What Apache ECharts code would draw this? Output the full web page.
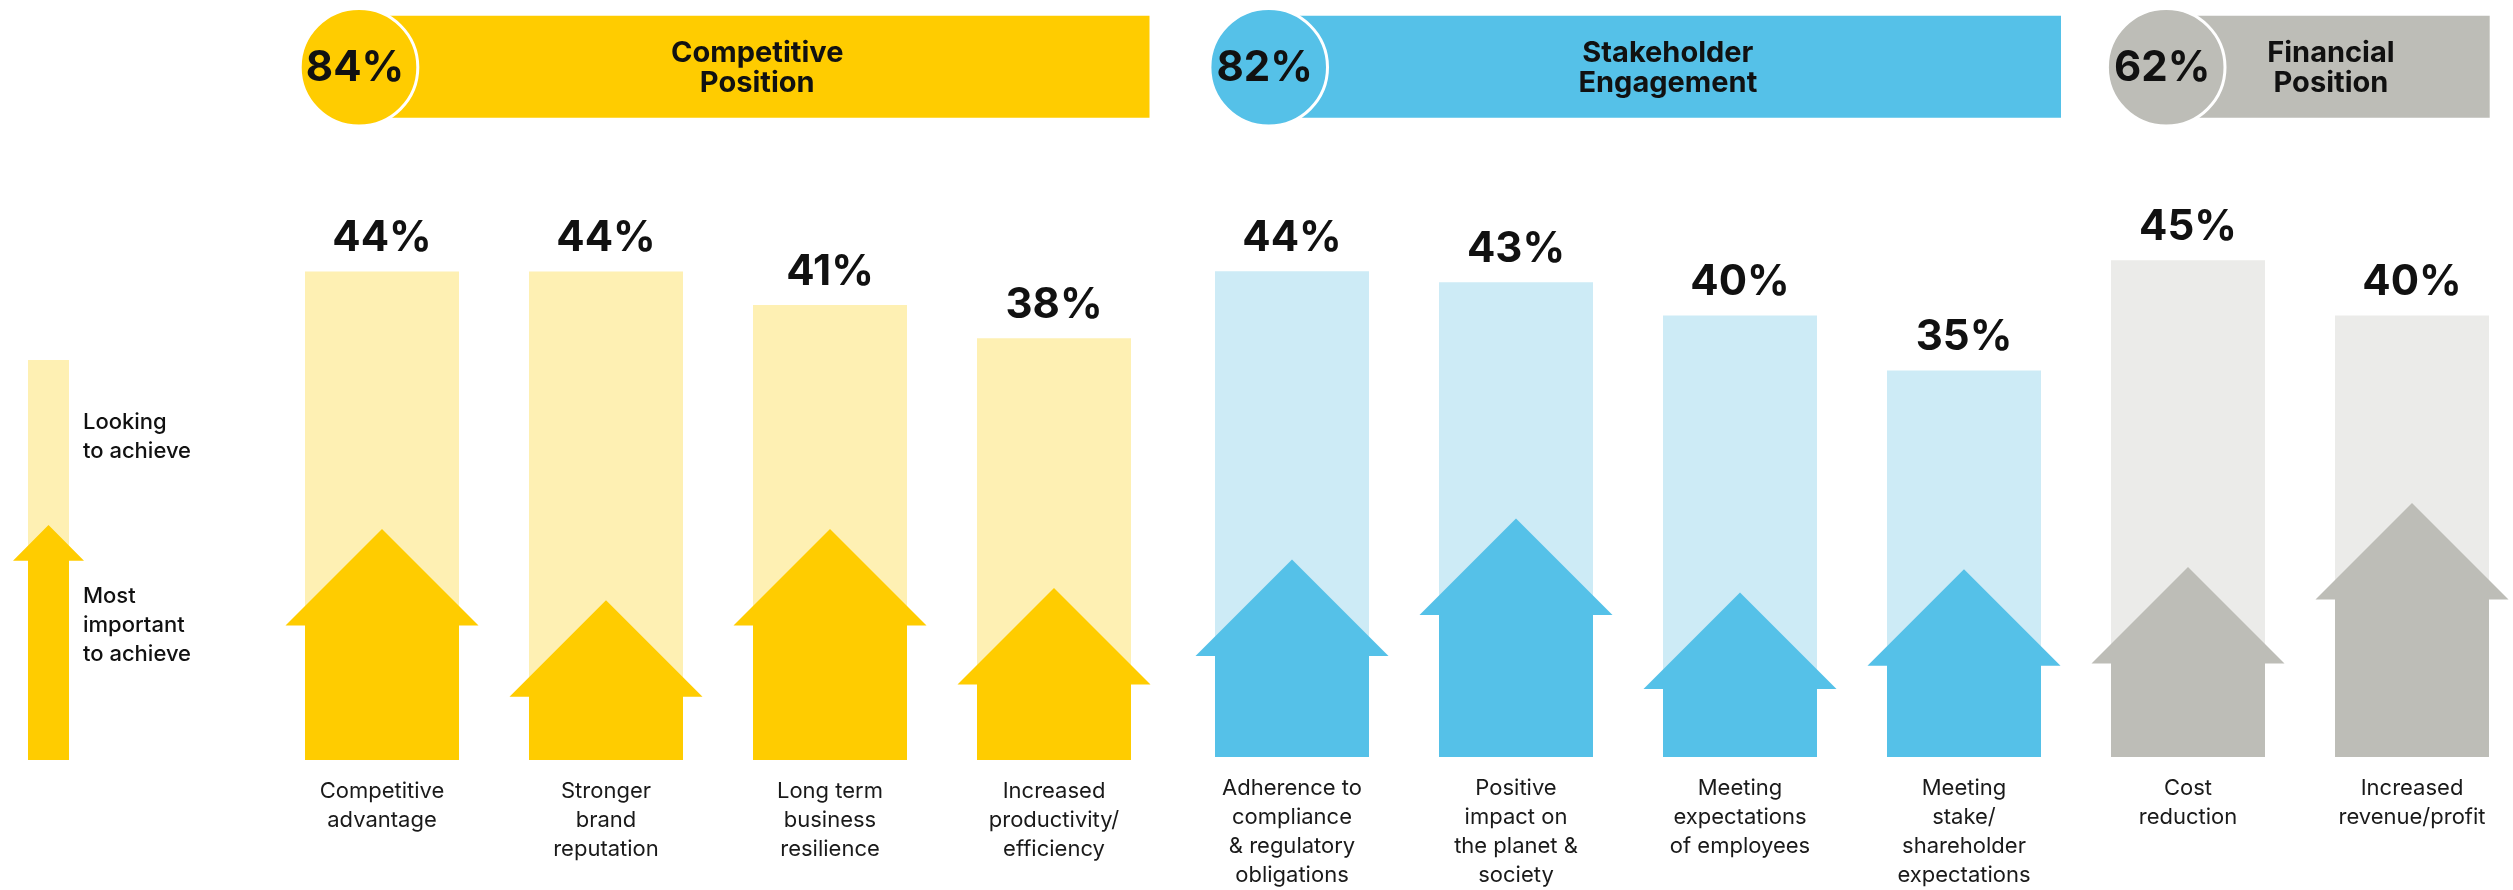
<!DOCTYPE html>
<html>
<head>
<meta charset="utf-8">
<script src="https://cdn.jsdelivr.net/npm/echarts@6/dist/echarts.min.js"></script>
<style>
  html, body { margin: 0; padding: 0; background: #fff; }
  #main { width: 2513px; height: 890px; }
</style>
</head>
<body>
<div id="main"></div>
<script>
// --- data ---
const compCats = ['Competitive\nadvantage', 'Stronger\nbrand\nreputation', 'Long term\nbusiness\nresilience', 'Increased\nproductivity/\nefficiency'];
const compLooking = [44, 44, 41, 38];
const compMost = [20.8, 14.4, 20.8, 15.5];

const stakeCats = ['Adherence to\ncompliance\n& regulatory\nobligations', 'Positive\nimpact on\nthe planet &\nsociety', 'Meeting\nexpectations\nof employees', 'Meeting\nstake/\nshareholder\nexpectations'];
const stakeLooking = [44, 43, 40, 35];
const stakeMost = [17.9, 21.6, 14.9, 17.0];

const finCats = ['Cost\nreduction', 'Increased\nrevenue/profit'];
const finLooking = [45, 40];
const finMost = [17.2, 23.0];

const groupNames = ['Competitive\nPosition', 'Stakeholder\nEngagement', 'Financial\nPosition'];
const groupTotals = [84, 82, 62];

const legendLabels = ['Looking\nto achieve', 'Most\nimportant\nto achieve'];

// --- styles ---
const YELLOW = '#FFCC00', YELLOW_L = '#FEF0B3';
const BLUE = '#55C1E8', BLUE_L = '#CDEBF6';
const GREY = '#BDBDB7', GREY_L = '#EBEBE9';
const FONT = 'Inter, "Liberation Sans", sans-serif';

const BAR_W = 154;
const HEAD_OVER = 19.5;

const rightCats = stakeCats.concat(finCats);
const rightLooking = stakeLooking.concat(finLooking);
const rightMost = stakeMost.concat(finMost);
const rightDark = (i) => (i < stakeCats.length ? BLUE : GREY);
const rightLight = (i) => (i < stakeCats.length ? BLUE_L : GREY_L);

function arrowRenderer(colorFn) {
  return function (params, api) {
    const idx = api.value(0);
    const val = api.value(1);
    const tip = api.coord([idx, val]);
    const base = api.coord([idx, 0]);
    const half = BAR_W / 2;
    const headHalf = half + HEAD_OVER;
    const headY = tip[1] + headHalf; // 45 degree head
    const x = tip[0];
    return {
      type: 'polygon',
      shape: {
        points: [
          [x - half, base[1]], [x - half, headY], [x - headHalf, headY],
          [x, tip[1]],
          [x + headHalf, headY], [x + half, headY], [x + half, base[1]],
        ],
      },
      style: { fill: colorFn(params.dataIndex) },
    };
  };
}

const axisLabel = {
  interval: 0,
  margin: 17,
  fontFamily: FONT,
  fontSize: 22,
  lineHeight: 29,
  color: '#1a1a1a',
};
const barLabel = {
  show: true,
  position: 'top',
  distance: 12,
  formatter: '{c}%',
  fontFamily: FONT,
  fontWeight: 'bold',
  fontSize: 42,
  color: '#111',
};

// header banners
const hdr = [
  { cx: 359, right: 1149.5, dark: YELLOW },
  { cx: 1268.7, right: 2061, dark: BLUE },
  { cx: 2166.2, right: 2489.7, dark: GREY },
];
const graphics = [];
hdr.forEach((h, i) => {
  graphics.push({
    type: 'rect', z: 1,
    shape: { x: h.cx + 31, y: 15.7, width: h.right - h.cx - 31, height: 102 },
    style: { fill: h.dark },
  });
  graphics.push({
    type: 'circle', z: 2,
    shape: { cx: h.cx, cy: 67.3, r: 58.8 },
    style: { fill: h.dark, stroke: '#fff', lineWidth: 3 },
  });
  graphics.push({
    type: 'text', z: 3,
    style: {
      text: groupTotals[i] + '%', x: h.cx - 4, y: 68,
      align: 'center', verticalAlign: 'middle',
      font: 'bold 42px ' + FONT, fill: '#111',
    },
  });
  graphics.push({
    type: 'text', z: 3,
    style: {
      text: groupNames[i], x: (h.cx + h.right) / 2 + 3, y: 68,
      align: 'center', verticalAlign: 'middle', lineHeight: 30,
      font: 'bold 29px ' + FONT, fill: '#111',
    },
  });
});

// legend on the left
graphics.push({ type: 'rect', shape: { x: 28, y: 360, width: 41, height: 400 }, style: { fill: YELLOW_L } });
graphics.push({
  type: 'polygon',
  shape: { points: [[28, 760], [28, 560.7], [13, 560.7], [48.5, 525], [84, 560.7], [69, 560.7], [69, 760]] },
  style: { fill: YELLOW },
});
graphics.push({
  type: 'text',
  style: { text: legendLabels[0], x: 83, y: 437, verticalAlign: 'middle', lineHeight: 29, font: '500 22px ' + FONT, fill: '#111' },
});
graphics.push({
  type: 'text',
  style: { text: legendLabels[1], x: 83, y: 625, verticalAlign: 'middle', lineHeight: 29, font: '500 22px ' + FONT, fill: '#111' },
});

// category ticks sit on the grid edges (boundaryGap false), 224px apart
const option = {
  animation: false,
  backgroundColor: '#fff',
  grid: [
    { left: 382, width: 672, top: 205, bottom: 130 },
    { left: 1292, width: 1120, top: 205, bottom: 130 },
  ],
  xAxis: [
    { type: 'category', gridIndex: 0, boundaryGap: false, data: compCats, axisLine: { show: false }, axisTick: { show: false }, axisLabel },
    { type: 'category', gridIndex: 1, boundaryGap: false, data: rightCats, axisLine: { show: false }, axisTick: { show: false }, axisLabel },
  ],
  yAxis: [
    { type: 'value', gridIndex: 0, min: 0, max: 50, show: false, splitLine: { show: false } },
    { type: 'value', gridIndex: 1, min: 0, max: 50, show: false, splitLine: { show: false } },
  ],
  graphic: graphics,
  series: [
    {
      name: 'Looking to achieve', type: 'bar', xAxisIndex: 0, yAxisIndex: 0,
      barWidth: BAR_W, data: compLooking, itemStyle: { color: YELLOW_L }, label: barLabel, z: 2,
    },
    {
      name: 'Most important to achieve', type: 'custom', xAxisIndex: 0, yAxisIndex: 0,
      renderItem: arrowRenderer(() => YELLOW),
      data: compMost.map((v, i) => [i, v]), encode: { x: 0, y: 1 }, z: 3,
    },
    {
      name: 'Looking to achieve', type: 'bar', xAxisIndex: 1, yAxisIndex: 1,
      barWidth: BAR_W, data: rightLooking,
      itemStyle: { color: (p) => rightLight(p.dataIndex) }, label: barLabel, z: 2,
    },
    {
      name: 'Most important to achieve', type: 'custom', xAxisIndex: 1, yAxisIndex: 1,
      renderItem: arrowRenderer(rightDark),
      data: rightMost.map((v, i) => [i, v]), encode: { x: 0, y: 1 }, z: 3,
    },
  ],
};

const chart = echarts.init(document.getElementById('main'));
chart.setOption(option);
</script>
</body>
</html>
